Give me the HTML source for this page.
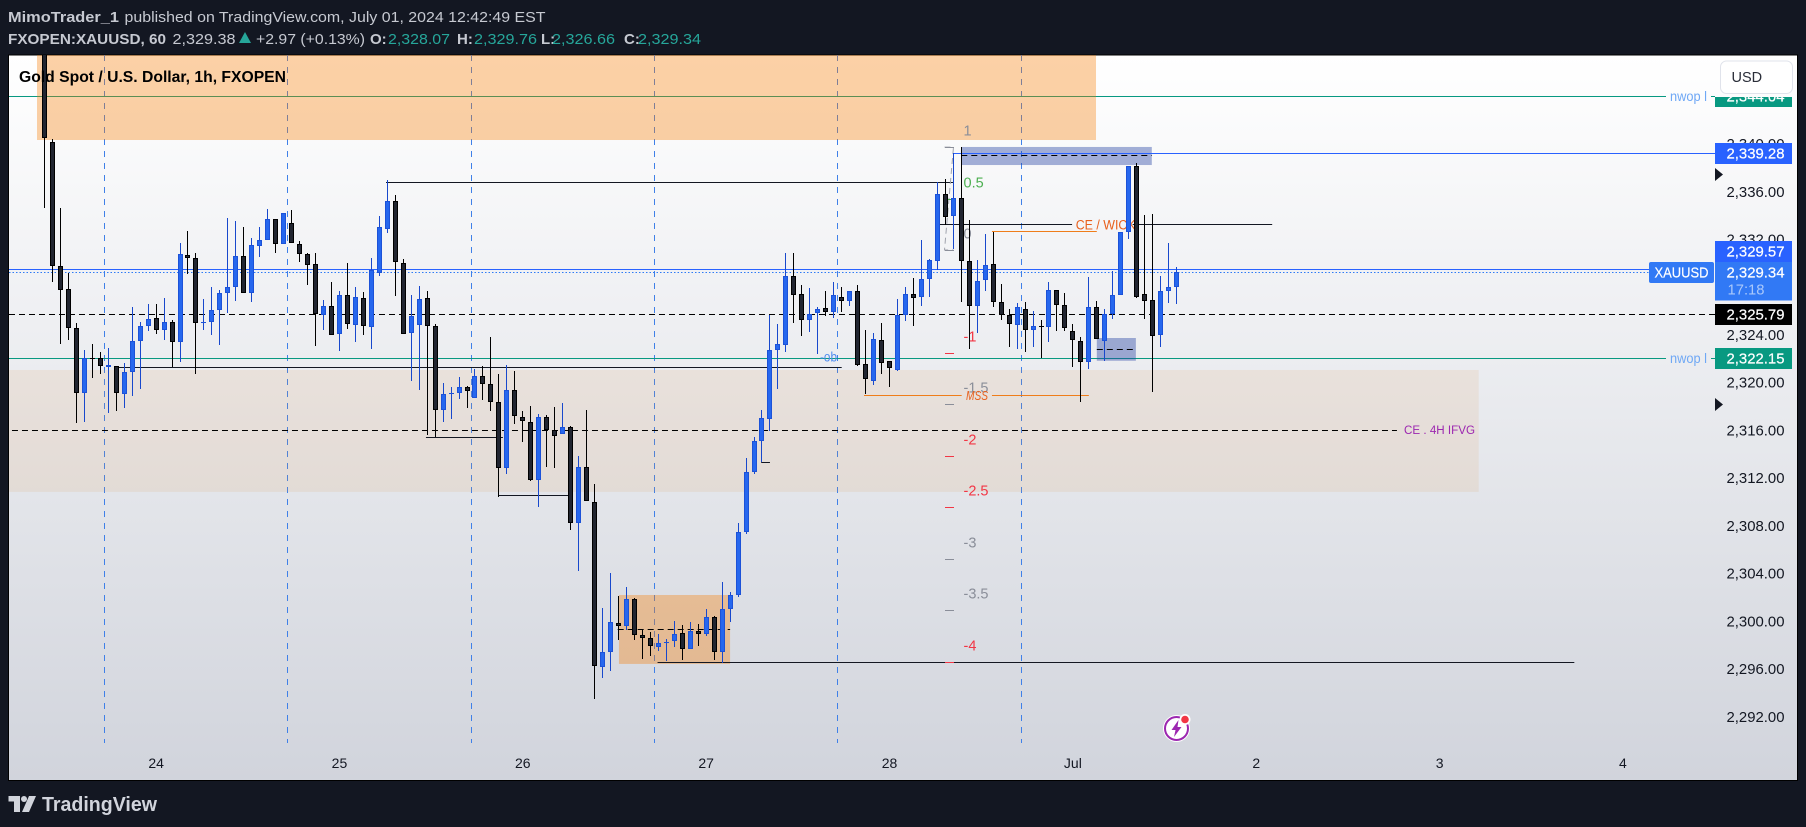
<!DOCTYPE html>
<html lang="en">
<head>
<meta charset="utf-8">
<title>XAUUSD chart</title>
<style>
html,body{margin:0;padding:0;background:#131722;width:1806px;height:827px;overflow:hidden}
svg{display:block;font-family:"Liberation Sans",sans-serif}
</style>
</head>
<body>
<svg id="root" xmlns="http://www.w3.org/2000/svg" width="1806" height="827" viewBox="0 0 1806 827">
  <defs>
    <linearGradient id="panelGrad" x1="0" y1="0" x2="0" y2="1">
      <stop offset="0" stop-color="#ffffff"/>
      <stop offset="1" stop-color="#d1d4dc"/>
    </linearGradient>
    <clipPath id="plotClip"><rect x="9" y="55" width="1788" height="725"/></clipPath>
    <clipPath id="nwopTagClip"><rect x="1715" y="97" width="77" height="10"/></clipPath>
  </defs>
  <rect x="0" y="0" width="1806" height="827" fill="#131722"/>

  <g font-size="15" fill="#c6c9d1">
    <text x="8" y="22" font-weight="700" textLength="111" lengthAdjust="spacingAndGlyphs">MimoTrader_1</text>
    <text x="124.5" y="22" textLength="421" lengthAdjust="spacingAndGlyphs">published on TradingView.com, July 01, 2024 12:42:49 EST</text>
    <text x="8" y="44" font-weight="700" textLength="158" lengthAdjust="spacingAndGlyphs">FXOPEN:XAUUSD, 60</text>
    <text x="172.5" y="44" textLength="63" lengthAdjust="spacingAndGlyphs">2,329.38</text>
    <polygon points="239,43 245,32 251,43" fill="#26a69a"/>
    <text x="256" y="44" textLength="109" lengthAdjust="spacingAndGlyphs">+2.97 (+0.13%)</text>
    <text x="370" y="44" font-weight="700">O:</text>
    <text x="388" y="44" fill="#26a69a" textLength="62" lengthAdjust="spacingAndGlyphs">2,328.07</text>
    <text x="457" y="44" font-weight="700">H:</text>
    <text x="474" y="44" fill="#26a69a" textLength="63" lengthAdjust="spacingAndGlyphs">2,329.76</text>
    <text x="541" y="44" font-weight="700">L:</text>
    <text x="552" y="44" fill="#26a69a" textLength="63" lengthAdjust="spacingAndGlyphs">2,326.66</text>
    <text x="624" y="44" font-weight="700">C:</text>
    <text x="638" y="44" fill="#26a69a" textLength="63" lengthAdjust="spacingAndGlyphs">2,329.34</text>
  </g>

  <rect x="8.5" y="55" width="1789" height="725.5" fill="url(#panelGrad)" stroke="#000" stroke-width="1"/>

  <g id="plot" clip-path="url(#plotClip)"></g>

  <g id="axisTicks" font-size="15" fill="#131722"></g>
  <g id="timeAxis" font-size="14" fill="#131722" text-anchor="middle"></g>

  <g font-size="15" fill="#ffffff" stroke="#ffffff" stroke-width="0.2">
    <rect x="1715" y="97" width="77" height="10" fill="#089981" stroke="none"/>
    <text x="1726.5" y="101.5" clip-path="url(#nwopTagClip)" textLength="58" lengthAdjust="spacingAndGlyphs">2,344.04</text>
    <rect x="1715" y="143" width="77" height="21" fill="#2962ff" stroke="none"/>
    <text x="1726.5" y="158.5" textLength="58" lengthAdjust="spacingAndGlyphs">2,339.28</text>
    <rect x="1715" y="241" width="77" height="21" fill="#2962ff" stroke="none"/>
    <text x="1726.5" y="256.5" textLength="58" lengthAdjust="spacingAndGlyphs">2,329.57</text>
    <rect x="1715" y="262" width="77" height="38.5" fill="#3179f5" stroke="none"/>
    <text x="1726.5" y="277.5" textLength="58" lengthAdjust="spacingAndGlyphs">2,329.34</text>
    <text x="1727.5" y="294.5" fill="#a9c8fb" stroke="none" textLength="37" lengthAdjust="spacingAndGlyphs">17:18</text>
    <rect x="1649" y="262" width="65" height="21" rx="2" fill="#3179f5" stroke="none"/>
    <text x="1654.5" y="277.5" textLength="54" lengthAdjust="spacingAndGlyphs">XAUUSD</text>
    <rect x="1715" y="304" width="77" height="21" fill="#000000" stroke="none"/>
    <text x="1726.5" y="319.5" textLength="58" lengthAdjust="spacingAndGlyphs">2,325.79</text>
    <rect x="1715" y="348" width="77" height="21" fill="#089981" stroke="none"/>
    <text x="1726.5" y="363.5" textLength="58" lengthAdjust="spacingAndGlyphs">2,322.15</text>
    <polygon points="1715,168 1723,174.5 1715,181" fill="#131722" stroke="none"/>
    <polygon points="1715,398 1723,404.5 1715,411" fill="#131722" stroke="none"/>
  </g>

  <g>
    <rect x="1720.5" y="61" width="72" height="32.5" rx="6" fill="#ffffff" stroke="#e0e3eb" stroke-width="1"/>
    <text x="1731.5" y="82" font-size="14.5" fill="#2a2e39">USD</text>
  </g>

  <g>
    <circle cx="1176.5" cy="728.5" r="13.5" fill="#ffffff"/>
    <circle cx="1176.5" cy="728.5" r="11.5" fill="none" stroke="#9c27b0" stroke-width="2"/>
    <polygon points="1178.5,720 1171.5,730 1175.5,730 1174,737 1181.5,727 1177.5,727" fill="#9c27b0"/>
    <circle cx="1185" cy="719.5" r="5.5" fill="#ffffff"/>
    <circle cx="1185" cy="719.5" r="3.8" fill="#f23645"/>
  </g>

  <g fill="#d1d4dc">
    <path d="M8.5 796H20V812H14V801.5H8.5Z"/>
    <circle cx="24" cy="799" r="3"/>
    <path d="M29 796H36L29 812H22Z"/>
    <text x="42" y="811" font-size="20.5" font-weight="700" textLength="115" lengthAdjust="spacingAndGlyphs">TradingView</text>
  </g>
</svg>

<script>
// ---- Candle data ----
const opens = [
2350,2340.2,2329.84,2327.92,2324.66,2319.23,2322.15,2322.15,2321.40,2321.48,
2319.14,2320.98,2323.57,2324.82,2325.49,2324.49,2325.16,2323.49,2330.76,2330.50,
2325.08,2325.16,2326.16,2327.58,2328.08,2330.67,2327.64,2331.56,2332.01,2333.76,
2331.67,2333.43,2331.67,2330.84,2330.00,2325.74,2326.49,2324.16,2327.41,2324.96,
2327.16,2324.74,2329.25,2332.98,2335.27,2330.14,2324.24,2324.91,2327.16,2324.82,
2317.81,2319.20,2319.23,2319.73,2318.81,2320.65,2319.98,2318.47,2312.96,2319.48,
2317.22,2316.81,2312.02,2317.22,2316.14,2315.80,2316.39,2308.37,2313.04,2310.12,
2296.34,2297.59,2300.01,2299.76,2302.02,2299.01,2298.76,2298.00,2298.34,2298.50,
2299.18,2297.84,2299.34,2299.09,2300.51,2297.59,2301.18,2302.35,2307.62,2312.63,
2315.22,2317.11,2322.82,2323.29,2329.00,2327.50,2325.38,2325.91,2326.33,2326.05,
2327.25,2326.91,2327.75,2321.65,2320.28,2323.65,2321.90,2321.20,2325.74,2327.50,
2327.25,2328.75,2330.25,2335.85,2334.01,2335.52,2330.25,2326.50,2328.67,2330.00,
2326.83,2325.74,2324.91,2326.25,2324.49,2324.83,2324.74,2327.83,2326.58,2324.46,
2323.57,2321.82,2326.41,2323.57,2325.83,2327.41,2332.68,2338.19,2327.50,2327.00,
2324.07,2327.75,2328.07];
const highs = [
2352,2340.45,2334.74,2329.31,2325.08,2322.85,2323.35,2322.68,2323.02,2321.48,
2321.76,2326.44,2325.16,2326.69,2326.69,2327.19,2325.33,2331.79,2332.79,2330.92,
2327.11,2328.11,2327.83,2333.87,2333.62,2333.12,2332.18,2333.12,2334.63,2333.76,
2334.27,2334.54,2331.95,2330.92,2330.92,2327.00,2328.50,2327.75,2330.09,2328.11,
2327.67,2330.50,2334.01,2337.02,2335.77,2330.42,2327.41,2328.17,2327.75,2324.99,
2320.06,2319.76,2320.59,2319.84,2321.23,2321.48,2323.91,2320.84,2321.57,2321.09,
2317.75,2318.14,2317.47,2317.39,2318.06,2318.39,2316.47,2313.99,2317.80,2311.65,
2301.27,2304.19,2302.30,2303.02,2302.10,2299.51,2299.26,2299.09,2298.67,2300.18,
2299.85,2300.10,2299.93,2301.18,2300.60,2303.44,2302.60,2308.37,2313.80,2315.55,
2317.80,2325.77,2325.02,2330.95,2330.95,2328.25,2328.03,2326.41,2327.77,2328.53,
2328.11,2327.75,2328.28,2324.52,2324.27,2325.10,2321.90,2327.08,2328.11,2328.86,
2332.03,2330.45,2336.85,2337.10,2339.28,2339.78,2333.68,2330.34,2332.51,2332.73,
2328.33,2326.25,2326.75,2326.83,2326.08,2325.33,2328.50,2327.83,2327.58,2325.00,
2323.91,2328.92,2326.91,2326.25,2329.42,2332.68,2338.19,2338.44,2334.10,2334.18,
2329.00,2331.76,2329.76];
const lows = [
2334.74,2328.56,2323.38,2323.68,2316.78,2316.86,2320.54,2320.87,2317.61,2317.78,
2318.03,2319.03,2319.62,2324.46,2324.21,2323.71,2321.40,2321.87,2329.22,2320.87,
2324.55,2324.13,2323.29,2325.97,2326.97,2327.58,2326.89,2330.64,2332.01,2330.98,
2331.67,2331.76,2330.23,2328.30,2323.21,2324.55,2324.07,2322.79,2324.63,2323.54,
2324.13,2322.96,2329.06,2332.65,2327.39,2324.16,2320.29,2319.53,2315.78,2315.55,
2316.86,2317.08,2318.75,2318.03,2318.81,2318.67,2317.75,2310.59,2312.49,2316.67,
2315.16,2311.93,2309.73,2313.10,2313.02,2315.80,2307.84,2304.41,2310.20,2293.72,
2295.47,2296.06,2298.62,2299.46,2298.65,2297.06,2297.31,2297.67,2296.90,2298.06,
2296.98,2297.84,2298.15,2298.93,2296.98,2296.67,2300.10,2302.18,2307.45,2312.46,
2313.46,2316.05,2319.61,2322.71,2325.13,2324.01,2324.38,2322.51,2325.69,2325.55,
2326.05,2326.52,2321.54,2319.17,2319.92,2320.84,2319.75,2321.09,2325.24,2324.85,
2326.52,2327.30,2329.50,2333.29,2331.31,2326.83,2322.90,2324.24,2327.80,2326.41,
2325.38,2323.07,2322.90,2322.65,2323.13,2322.21,2323.54,2324.46,2324.41,2321.46,
2318.53,2321.29,2323.74,2321.96,2325.47,2327.41,2332.15,2327.22,2325.47,2319.37,
2323.13,2326.75,2326.66];
const closes = [
2340.53,2329.89,2327.89,2324.66,2319.23,2322.15,2322.12,2321.48,2321.57,2319.23,
2320.98,2323.57,2324.82,2325.41,2324.49,2325.16,2323.49,2330.84,2330.50,2325.08,
2325.16,2326.16,2327.58,2328.08,2330.67,2327.58,2331.59,2332.01,2333.76,2331.67,
2334.27,2331.76,2330.84,2329.98,2325.83,2326.49,2324.07,2327.41,2325.00,2327.25,
2324.82,2329.56,2333.09,2335.27,2330.17,2324.16,2325.66,2327.08,2324.82,2317.81,
2319.14,2319.25,2319.73,2319.39,2320.65,2319.98,2318.47,2312.96,2319.48,2317.31,
2316.89,2312.02,2317.22,2316.14,2315.64,2316.39,2308.37,2313.04,2310.20,2296.42,
2297.59,2300.10,2299.76,2302.02,2299.01,2298.76,2298.09,2298.34,2298.42,2299.09,
2297.84,2299.34,2299.09,2300.51,2297.59,2301.18,2302.35,2307.62,2312.63,2315.22,
2317.14,2322.82,2323.32,2329.00,2327.47,2325.38,2325.82,2326.24,2326.05,2327.41,
2326.97,2327.75,2321.62,2320.39,2323.74,2321.79,2321.31,2325.74,2327.50,2327.16,
2328.75,2330.34,2335.85,2333.93,2335.52,2330.25,2326.50,2328.58,2329.92,2326.83,
2325.74,2324.99,2326.41,2324.49,2324.83,2324.80,2327.83,2326.58,2324.66,2323.66,
2321.82,2326.41,2323.74,2325.83,2327.41,2332.68,2338.19,2327.30,2326.91,2323.99,
2327.75,2328.10,2329.34];

// ---- Axis data ----
const priceTicks = [2340,2336,2332,2328,2324,2320,2316,2312,2308,2304,2300,2296,2292];
const priceTickLabels = ["2,340.00","2,336.00","2,332.00","2,328.00","2,324.00","2,320.00","2,316.00","2,312.00","2,308.00","2,304.00","2,300.00","2,296.00","2,292.00"];
const dayLabels = ["24","25","26","27","28","Jul","2","3","4"];
const dayBars = [14,37,60,83,106,129,152,175,198];
const sessionBars = [7.5,30.5,53.5,76.5,99.5,122.5];

// ---- Drawing data: price levels with the bars they span ----
const fibLevels = [1,0.5,0,-1,-1.5,-2,-2.5,-3,-3.5,-4];
const fibLabels = ["1","0.5","0","-1","-1.5","-2","-2.5","-3","-3.5","-4"];
const fibKinds = ["gray","green","gray","red","gray","red","red","gray","gray","red"];
const fibBase = 2331.2;
const fibRange = 8.6;

const trendPrices = [2321.40,2336.86,2333.35,2333.35,2315.55,2310.71,2313.47,2296.76];
const trendFrom = [8.84,42.84,112.33,136.5,47.85,56.9,89.9,76.9];
const trendTo = [100,113.96,128.9,154,57.5,65.67,91,191.9];

const orangePrices = [2332.76,2319.06,2319.06];
const orangeFrom = [118.85,102.8,118.85];
const orangeTo = [132,115.05,131];

const dashedPrices = [2316.14,2339.11,2322.90,2299.52];
const dashedFrom = [-4.08,115,132,71.9];
const dashedTo = [169.65,138.9,136.9,86];

const orangeZoneTop = [2352,2302.38];
const orangeZoneBottom = [2340.39,2296.62];
const orangeZoneFrom = [-0.94,72.06];
const orangeZoneTo = [131.9,86];

const blueZoneTop = [2339.81,2323.85];
const blueZoneBottom = [2338.30,2321.95];
const blueZoneFrom = [115,132];
const blueZoneTo = [138.9,136.9];

const beigeZoneTop = 2321.18;
const beigeZoneBottom = 2310.99;
const beigeZoneTo = 179.9;

const nwopHigh = 2344.04;
const nwopLow = 2322.15;
const resistance = 2339.28;
const sessionHigh = 2329.57;
const lastPrice = 2329.34;
const midLevel = 2325.79;

// ---- Scales ----
function xAt(i){ return 44.5 + 7.972 * i; }
function yAt(p){ return 153.3 + (2339.28 - p) * 11.97; }
const plot = document.getElementById('plot');
const NS = 'http://www.w3.org/2000/svg';
function mk(tag, parent, props){
  const el = document.createElementNS(NS, tag);
  for (const k in props) el.setAttribute(k, props[k]);
  parent.appendChild(el);
  return el;
}
function hline(p, x0, x1, color, dash, w){
  const y = Math.floor(yAt(p)) + 0.5;
  const props = {x1:x0, x2:x1, y1:y, y2:y, stroke:color, 'stroke-width':w||1};
  if (dash) props['stroke-dasharray'] = dash;
  return mk('line', plot, props);
}

// session separators
sessionBars.forEach(function(b){
  const x = Math.floor(xAt(b)) + 0.5;
  const v = mk('line', plot, {x1:x, x2:x, y1:55, y2:743, stroke:'#3f80e8', 'stroke-width':1, 'stroke-dasharray':'6 6'});
  
  
});

// nwop lines (drawn under zones so the zones tint them)
const nh = hline(nwopHigh, 9, 1666, '#089981');


const nh2 = hline(nwopHigh, 1711, 1715, '#089981');


const nl = hline(nwopLow, 9, 1666, '#089981');


const nl2 = hline(nwopLow, 1711, 1715, '#089981');



// zones
const beige = mk('rect', plot, {x:9, y:yAt(beigeZoneTop), width:xAt(beigeZoneTo)-9, height:yAt(beigeZoneBottom)-yAt(beigeZoneTop), fill:'rgb(220,150,70)', 'fill-opacity':0.12});


orangeZoneTop.forEach(function(t, k){
  const r = mk('rect', plot, {x:xAt(orangeZoneFrom[k]), y:yAt(t), width:xAt(orangeZoneTo[k])-xAt(orangeZoneFrom[k]), height:yAt(orangeZoneBottom[k])-yAt(t), fill:'rgb(245,124,0)', 'fill-opacity':0.35});
  
  
});
blueZoneTop.forEach(function(t, k){
  const r = mk('rect', plot, {x:xAt(blueZoneFrom[k]), y:yAt(t), width:xAt(blueZoneTo[k])-xAt(blueZoneFrom[k]), height:yAt(blueZoneBottom[k])-yAt(t), fill:'rgb(40,70,165)', 'fill-opacity':0.42});
  
  
});

// price lines
const rl = hline(resistance, 953, 1715, '#2962ff');


const sh = hline(sessionHigh, 9, 1649, '#2962ff');


const lp = hline(lastPrice, 9, 1649, '#2e7bf6', '1.5 2');


const ml = hline(midLevel, 9, 1715, '#000000', '6 4');



trendPrices.forEach(function(p, k){
  const l = hline(p, xAt(trendFrom[k]), xAt(trendTo[k]), '#131722');
  
  
});
orangePrices.forEach(function(p, k){
  const l = hline(p, xAt(orangeFrom[k]), xAt(orangeTo[k]), '#ef7d1a');
  
  
});
dashedPrices.forEach(function(p, k){
  const l = hline(p, xAt(dashedFrom[k]), xAt(dashedTo[k]), '#000000', '6 4');
  
  
});

// fib extension
const fibColors = {gray:'#8a8e99', green:'#4caf50', red:'#f23645'};
const fibTop = yAt(fibBase + fibRange);
const fibZero = yAt(fibBase);
const fibPath = mk('polyline', plot, {points:'944.5,'+fibTop+' 953.5,'+fibTop+' 944.5,'+fibZero+' 953.5,'+fibZero, fill:'none', stroke:'#a0a3ad', 'stroke-width':1, 'stroke-dasharray':'6 4'});


fibLevels.forEach(function(lv, k){
  const y = Math.round(yAt(fibBase + lv * fibRange)) + 0.5;
  const c = fibColors[fibKinds[k]];
  const t = mk('line', plot, {x1:945, x2:954, y1:y, y2:y, stroke:c, 'stroke-width':1});
  
  
  const lb = mk('text', plot, {x:963.5, y:y-12, fill:c, 'font-size':14.5});
  lb.textContent = fibLabels[k];
  
  
});

// annotation labels
function note(txt, x, y, color, size, len, extra){
  const props = {x:x, y:y, fill:color, 'font-size':size, textLength:len, lengthAdjust:'spacingAndGlyphs'};
  if (extra) props['font-style'] = extra;
  const t = mk('text', plot, props);
  t.textContent = txt;
  return t;
}
const n1 = note('CE / WICK', 1075.7, 229.5, '#e8601c', 13.5, 60);


const n2 = note('MSS', 966, 400, '#e8601c', 12.5, 22, 'italic');


const n3 = note('-ob', 820, 361.5, '#4d8cf0', 13.5, 17);


const n4 = note('CE . 4H IFVG', 1404, 434, '#9c27b0', 11.5, 71);


const n5 = note('nwop l', 1670, 101, '#6fa8f5', 13.5, 37);


const n6 = note('nwop l', 1670, 363, '#6fa8f5', 13.5, 37);



// candles
opens.forEach(function(o, i){
  const c = closes[i];
  const up = c >= o;
  const sx = Math.floor(xAt(i)) + 0.5;
  const wick = mk('rect', plot, {x:sx-0.5, y:Math.round(yAt(highs[i])), width:1, height:Math.max(Math.round(yAt(lows[i]))-Math.round(yAt(highs[i])),1), fill: up ? '#1848cc' : '#000000'});
  
  
  const top = Math.round(yAt(Math.max(o, c)));
  const bot = Math.round(yAt(Math.min(o, c)));
  const body = mk('rect', plot, {x:sx-2, y:top+0.5, width:4, height:Math.max(bot-top-1, 0.01), fill: up ? '#2667ee' : '#212530', stroke: up ? '#1c52d8' : '#000000', 'stroke-width':1});
  
  
});

// title over the plot
const title = mk('text', plot, {x:19, y:82, fill:'#000000', 'font-size':16, 'font-weight':700, textLength:267, lengthAdjust:'spacingAndGlyphs'});
title.textContent = 'Gold Spot / U.S. Dollar, 1h, FXOPEN';



// axes
const axisTicks = document.getElementById('axisTicks');
priceTicks.forEach(function(p, k){
  const t = mk('text', axisTicks, {x:1726.5, y:yAt(p)+4.3-(2336-p)*0.04, textLength:58, lengthAdjust:'spacingAndGlyphs'});
  t.textContent = priceTickLabels[k];
  
  
});
const timeAxis = document.getElementById('timeAxis');
dayLabels.forEach(function(d, k){
  const t = mk('text', timeAxis, {x:xAt(dayBars[k]), y:768});
  t.textContent = d;
  
  
});
</script>
</body>
</html>
